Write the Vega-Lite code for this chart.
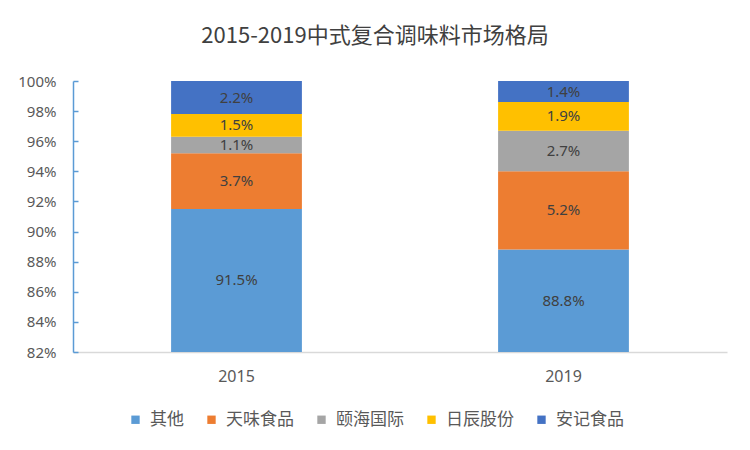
{
  "$schema": "https://vega.github.io/schema/vega-lite/v6.json",
  "autosize": {"type": "none"},
  "width": 654,
  "height": 271,
  "padding": {"left": 73, "top": 81, "right": 23, "bottom": 98},
  "background": "white",
  "config": {
    "font": "Noto Sans CJK SC",
    "view": {"stroke": null}
  },
  "title": {
    "text": "2015-2019中式复合调味料市场格局",
    "fontSize": 22,
    "font": "Noto Sans CJK SC",
    "fontWeight": "normal",
    "color": "#404040",
    "offset": 26,
    "dx": -25
  },
  "data": {
    "values": [
      {"year": "2015", "company": "其他", "value": 0.915, "order": 1},
      {"year": "2015", "company": "天味食品", "value": 0.037, "order": 2},
      {"year": "2015", "company": "颐海国际", "value": 0.011, "order": 3},
      {"year": "2015", "company": "日辰股份", "value": 0.015, "order": 4},
      {"year": "2015", "company": "安记食品", "value": 0.022, "order": 5},
      {"year": "2019", "company": "其他", "value": 0.888, "order": 1},
      {"year": "2019", "company": "天味食品", "value": 0.052, "order": 2},
      {"year": "2019", "company": "颐海国际", "value": 0.027, "order": 3},
      {"year": "2019", "company": "日辰股份", "value": 0.019, "order": 4},
      {"year": "2019", "company": "安记食品", "value": 0.014, "order": 5}
    ]
  },
  "transform": [
    {"stack": "value", "groupby": ["year"], "sort": [{"field": "order", "order": "ascending"}], "as": ["v0", "v1"]},
    {"calculate": "(max(datum.v0, 0.82) + datum.v1) / 2", "as": "mid"}
  ],
  "resolve": {"axis": {"x": "independent", "y": "independent"}},
  "layer": [
    {
      "mark": {"type": "bar", "clip": true},
      "encoding": {
        "x": {
          "field": "year",
          "type": "nominal",
          "title": null,
          "scale": {"paddingInner": 0.6, "paddingOuter": 0.3},
          "axis": {
            "labelAngle": 0,
            "ticks": false,
            "domainColor": "#D9D9D9",
            "domainWidth": 1.5,
            "labelColor": "#595959",
            "labelFontSize": 16,
            "labelFont": "Noto Sans",
            "labelPadding": 16
          }
        },
        "y": {
          "field": "v0",
          "type": "quantitative",
          "title": null,
          "scale": {"domain": [0.82, 1], "nice": false, "zero": false},
          "axis": {
            "format": ".0%",
            "values": [0.82, 0.84, 0.86, 0.88, 0.9, 0.92, 0.94, 0.96, 0.98, 1.0],
            "grid": false,
            "labelOverlap": false,
            "domainColor": "#5B9BD5",
            "domainWidth": 1.5,
            "tickColor": "#5B9BD5",
            "tickWidth": 1.5,
            "tickSize": -5,
            "labelColor": "#595959",
            "labelFontSize": 15,
            "labelFont": "Noto Sans",
            "labelPadding": 22
          }
        },
        "y2": {"field": "v1"},
        "color": {
          "field": "company",
          "type": "nominal",
          "scale": {
            "domain": ["其他", "天味食品", "颐海国际", "日辰股份", "安记食品"],
            "range": ["#5B9BD5", "#ED7D31", "#A5A5A5", "#FFC000", "#4472C4"]
          },
          "legend": {
            "title": null,
            "orient": "none",
            "direction": "horizontal",
            "legendX": 54,
            "legendY": 330,
            "symbolType": "square",
            "symbolSize": 70,
            "symbolStrokeWidth": 0,
            "labelFontSize": 17,
            "labelColor": "#595959",
            "labelOffset": 6,
            "columnPadding": 19
          }
        }
      }
    },
    {
      "mark": {"type": "text", "fontSize": 15, "color": "#404040", "font": "Noto Sans"},
      "encoding": {
        "x": {"field": "year", "type": "nominal", "axis": null},
        "y": {"field": "mid", "type": "quantitative", "axis": null},
        "text": {"field": "value", "type": "quantitative", "format": ".1%"}
      }
    }
  ]
}
